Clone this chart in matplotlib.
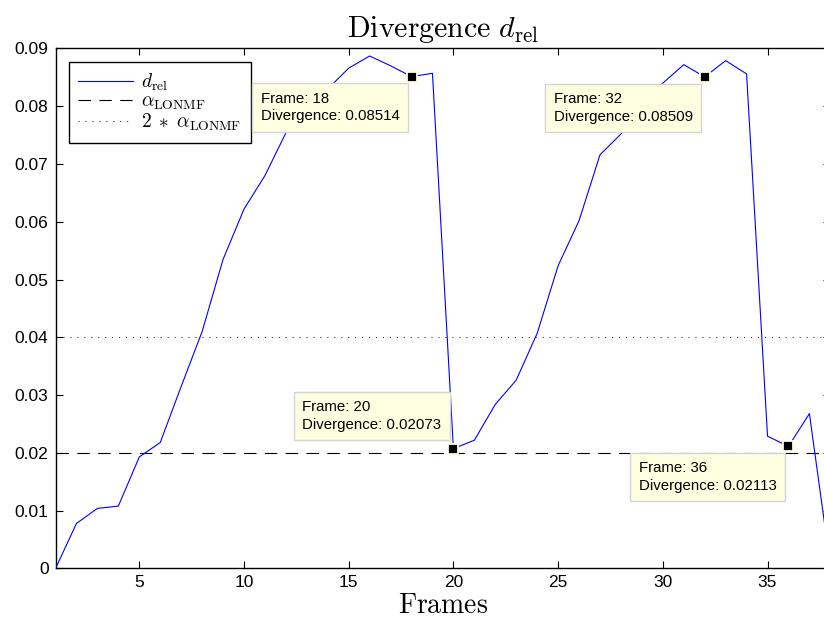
import matplotlib
matplotlib.use('Agg')
import matplotlib.pyplot as plt
from matplotlib.ticker import FuncFormatter

plt.rcParams['font.family'] = 'Liberation Sans'
plt.rcParams['mathtext.fontset'] = 'cm'
plt.rcParams['lines.scale_dashes'] = False

# relative divergence per frame
frames = list(range(1, 39))
d_rel = [0.0, 0.0078, 0.0104, 0.0108, 0.0193, 0.0218, 0.0315, 0.0410,
         0.0535, 0.0622, 0.0680, 0.0754, 0.0793, 0.0830, 0.0866, 0.0887,
         0.0870, 0.08514, 0.0857, 0.02073, 0.0222, 0.0284, 0.0326, 0.0407,
         0.0524, 0.0602, 0.0716, 0.0752, 0.0796, 0.0840, 0.0872, 0.08509,
         0.0879, 0.0856, 0.0229, 0.02113, 0.0268, 0.0005]

alpha_lonmf = 0.02

# frames marked with a data tip, and where the tip box sits
tip_frames = [18, 32, 20, 36]
tip_side = ['below', 'below', 'above', 'below']

fig = plt.figure(figsize=(8.24, 6.2), dpi=100)
ax = fig.add_axes([0.0674, 0.0831, 0.9403, 0.8387])

ax.plot(frames, d_rel, color='#0000ff', lw=0.8, label=r'$d_{\mathrm{rel}}$', zorder=3)
ax.axhline(alpha_lonmf, color='k', lw=0.8, dashes=(9, 6),
           label=r'$\alpha_{\mathrm{LONMF}}$', zorder=2)
ax.axhline(2 * alpha_lonmf, color='k', lw=0.6, dashes=(0.8, 4.2),
           label=r'$2\;\ast\;\alpha_{\mathrm{LONMF}}$', zorder=2)

tip_vals = [d_rel[frames.index(f)] for f in tip_frames]
ax.plot(tip_frames, tip_vals, 's', ms=7, mfc='k', mec='#ffffd8', mew=1.3,
        zorder=6)

for f, v, side in zip(tip_frames, tip_vals, tip_side):
    txt = 'Frame: %d\nDivergence: %.4g' % (f, v)
    if side == 'below':
        off, va = (-12, -15), 'top'
    else:
        off, va = (-12, 17), 'bottom'
    ax.annotate(txt, xy=(f, v), xytext=off, textcoords='offset pixels',
                ha='right', va=va, multialignment='left', fontsize=10.8,
                linespacing=1.35, zorder=7,
                bbox=dict(boxstyle='square,pad=0.55', fc='#ffffe1',
                          ec='#d4d4d4', lw=1.0))

ax.set_xlim(1, 38)
ax.set_ylim(0, 0.09)
ax.set_xticks(range(5, 38, 5))
ax.set_yticks([i / 100 for i in range(10)])
ax.yaxis.set_major_formatter(FuncFormatter(lambda v, p: '0' if v == 0 else '%.2f' % v))
ax.tick_params(direction='in', length=5, width=0.8, top=True, right=True,
               labelsize=12.5, pad=5)
for s in ax.spines.values():
    s.set_linewidth(1.0)

ax.set_title(r'$\mathrm{Divergence}\ d_{\mathrm{rel}}$', fontsize=21.5, pad=8)
ax.set_xlabel(r'$\mathrm{Frames}$', fontsize=20, labelpad=2)

leg = ax.legend(loc='upper left', bbox_to_anchor=(0.017, 0.974),
                borderaxespad=0, fontsize=14, fancybox=False, framealpha=1,
                edgecolor='k', handlelength=2.8, handletextpad=0.4,
                borderpad=0.5, labelspacing=0.0)
leg.get_frame().set_linewidth(1.0)

fig.savefig('out.png', dpi=100)
